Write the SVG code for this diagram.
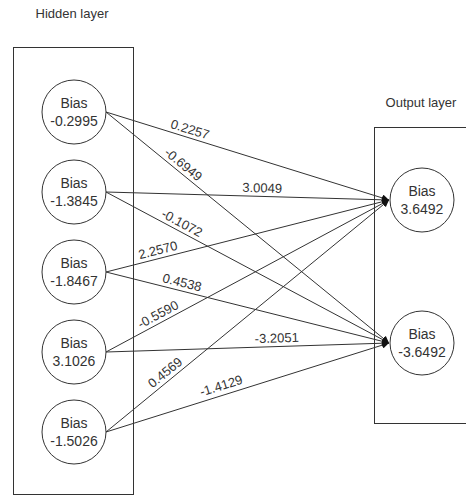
<svg xmlns="http://www.w3.org/2000/svg" width="466" height="496" viewBox="0 0 466 496">
<defs>
<style>
.box{fill:none;stroke:#333;stroke-width:1}
.node{fill:#fff;stroke:#333;stroke-width:1}
.t{font-family:"Liberation Sans",Arial,sans-serif;font-size:14px;fill:#333;text-anchor:middle}
.lt{font-family:"Liberation Sans",Arial,sans-serif;font-size:13px;fill:#333;text-anchor:middle}
.el{font-family:"Liberation Sans",Arial,sans-serif;font-size:13px;fill:#333;text-anchor:middle}
.e{stroke:#333;stroke-width:1;fill:none;marker-end:url(#arr)}
</style>
<marker id="arr" viewBox="0 0 10 10" refX="10" refY="5" markerWidth="7" markerHeight="7" markerUnits="userSpaceOnUse" orient="auto">
<path d="M0,0 L10,5 L0,10 Z" fill="#111"/>
</marker>
</defs>
<rect width="466" height="496" fill="#fff"/>
<g id="hidden-layer">
<rect class="box" x="13.5" y="47.5" width="120" height="447"/>
<text class="lt" x="72" y="18">Hidden layer</text>
</g>
<g id="output-layer">
<rect class="box" x="374.5" y="127.5" width="120" height="296"/>
<text class="lt" x="421" y="107">Output layer</text>
</g>
<g id="connectors">
<line class="e" x1="106" y1="112" x2="389" y2="200"/>
<line class="e" x1="106" y1="112" x2="389" y2="343"/>
<line class="e" x1="106" y1="192" x2="389" y2="200"/>
<line class="e" x1="106" y1="192" x2="389" y2="343"/>
<line class="e" x1="106" y1="272" x2="389" y2="200"/>
<line class="e" x1="106" y1="272" x2="389" y2="343"/>
<line class="e" x1="106" y1="352" x2="389" y2="200"/>
<line class="e" x1="106" y1="352" x2="389" y2="343"/>
<line class="e" x1="106" y1="432" x2="389" y2="200"/>
<line class="e" x1="106" y1="432" x2="389" y2="343"/>
<text class="el" transform="translate(187.5,137.4) rotate(17.3)" y="-4">0.2257</text>
<text class="el" transform="translate(178,171) rotate(39.3)" y="-4">-0.6949</text>
<text class="el" transform="translate(262,196.4) rotate(1.6)" y="-4">3.0049</text>
<text class="el" transform="translate(178,230.5) rotate(28.2)" y="-4">-0.1072</text>
<text class="el" transform="translate(160,258.2) rotate(-14.3)" y="-4">2.2570</text>
<text class="el" transform="translate(180,290.6) rotate(14.1)" y="-4">0.4538</text>
<text class="el" transform="translate(162,321.8) rotate(-28.3)" y="-4">-0.5590</text>
<text class="el" transform="translate(277,346.5) rotate(-1.8)" y="-4">-3.2051</text>
<text class="el" transform="translate(170.4,379) rotate(-39.4)" y="-4">0.4569</text>
<text class="el" transform="translate(224,394.7) rotate(-17.5)" y="-5">-1.4129</text>
</g>
<g id="h1"><circle class="node" cx="74" cy="112" r="32"/><text class="t" x="74" y="108">Bias</text><text class="t" x="74" y="126">-0.2995</text></g>
<g id="h2"><circle class="node" cx="74" cy="192" r="32"/><text class="t" x="74" y="188">Bias</text><text class="t" x="74" y="206">-1.3845</text></g>
<g id="h3"><circle class="node" cx="74" cy="272" r="32"/><text class="t" x="74" y="268">Bias</text><text class="t" x="74" y="286">-1.8467</text></g>
<g id="h4"><circle class="node" cx="74" cy="352" r="32"/><text class="t" x="74" y="348">Bias</text><text class="t" x="74" y="366">3.1026</text></g>
<g id="h5"><circle class="node" cx="74" cy="432" r="32"/><text class="t" x="74" y="428">Bias</text><text class="t" x="74" y="446">-1.5026</text></g>
<g id="o1"><circle class="node" cx="422" cy="200" r="32"/><text class="t" x="422" y="196">Bias</text><text class="t" x="422" y="214">3.6492</text></g>
<g id="o2"><circle class="node" cx="422" cy="343" r="32"/><text class="t" x="422" y="339">Bias</text><text class="t" x="422" y="357">-3.6492</text></g>
</svg>
